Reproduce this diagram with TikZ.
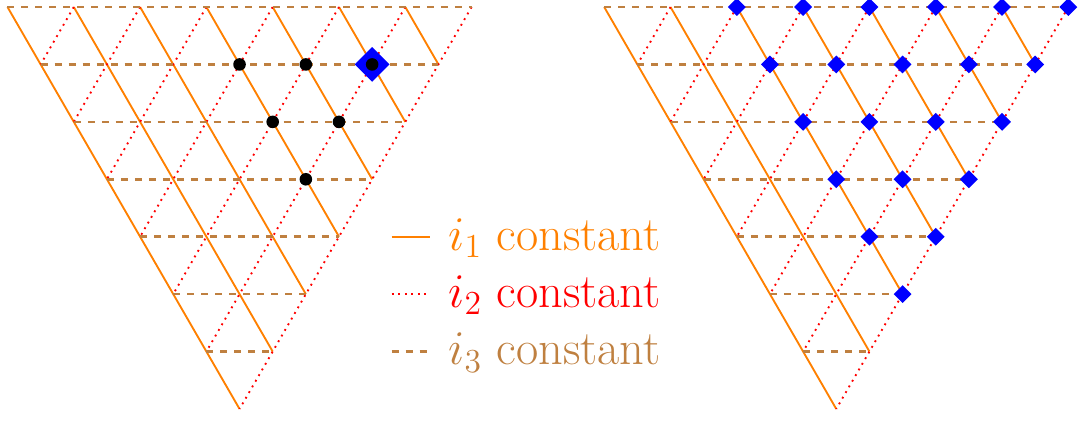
\documentclass[tikz,border=0pt]{standalone}
\usetikzlibrary{shapes.geometric}
\begin{document}
\begin{tikzpicture}[
  ione/.style={orange, thick},
  itwo/.style={red, thick, dotted},
  ithree/.style={brown, line width=1.1pt, dashed},
  bigdot/.style={circle, fill=black, inner sep=0pt, minimum size=0.19cm},
  bigdia/.style={diamond, fill=blue, inner sep=0pt, minimum width=0.53cm, minimum height=0.53cm},
  smalldia/.style={diamond, fill=blue, inner sep=0pt, minimum width=0.275cm, minimum height=0.275cm},
  legtext/.style={anchor=base west, inner sep=0pt, font=\huge}
]
\useasboundingbox (-0.113,0.106) rectangle (16.176,-6.229);
% lattice points: P(r,k) at (r/2+k, -r*0.866)
\foreach \ox/\nm in {0/L, 9/R} {
  \foreach \r in {0,...,7} {
    \pgfmathtruncatemacro{\kmax}{7-\r}
    \foreach \k in {0,...,\kmax} {
      \coordinate (\nm-\r-\k) at ({\ox+\r/2+\k}, {-\r*0.8660254});
    }
  }
  % i1 constant (solid)
  \foreach \k in {0,...,6} {
    \pgfmathtruncatemacro{\rr}{7-\k}
    \draw[ione] (\nm-0-\k) -- (\nm-\rr-\k);
  }
  % i2 constant (dotted)
  \foreach \k in {1,...,7} {
    \draw[itwo] (\nm-0-\k) -- (\nm-\k-0);
  }
  % i3 constant (dashed horizontal)
  \foreach \r in {0,...,6} {
    \pgfmathtruncatemacro{\kk}{7-\r}
    \draw[ithree] (\nm-\r-0) -- (\nm-\r-\kk);
  }
}
% left: highlighted point and dots
\node[bigdia] (D) at (L-1-5) {};
\foreach \r/\k in {1/3, 1/4, 1/5, 2/3, 2/4, 3/3} {
  \node[bigdot] (dot-\r-\k) at (L-\r-\k) {};
}
% right: diamonds
\foreach \r in {0,...,5} {
  \pgfmathtruncatemacro{\kmax}{7-\r}
  \foreach \k in {2,...,\kmax} {
    \node[smalldia] (dia-\r-\k) at (R-\r-\k) {};
  }
}
% legend
\coordinate (la1) at (5.795,-3.4641); \coordinate (lb1) at (6.372,-3.4641);
\coordinate (la2) at (5.795,-4.3301); \coordinate (lb2) at (6.372,-4.3301);
\coordinate (la3) at (5.795,-5.1962); \coordinate (lb3) at (6.372,-5.1962);
\draw[ione] (la1) -- (lb1);
\draw[itwo] (la2) -- (lb2);
\draw[ithree] (la3) -- (lb3);
\node[legtext, text=orange] (t1) at (6.644,-3.665) {$i_1$ constant};
\node[legtext, text=red] (t2) at (6.644,-4.530) {$i_2$ constant};
\node[legtext, text=brown] (t3) at (6.644,-5.396) {$i_3$ constant};
\end{tikzpicture}
\end{document}
